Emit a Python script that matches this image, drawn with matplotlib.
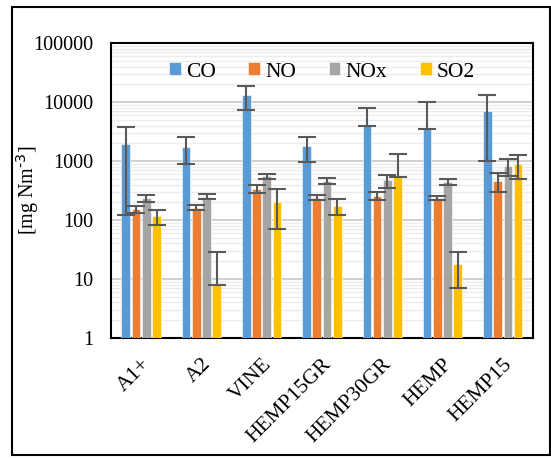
import numpy as np
import matplotlib

matplotlib.use("Agg")
import matplotlib.pyplot as plt
from matplotlib.patches import Rectangle
from matplotlib.ticker import FuncFormatter, LogLocator, NullFormatter

plt.rcParams["font.family"] = ["Liberation Serif", "DejaVu Serif"]

fuels = ["A1+", "A2", "VINE", "HEMP15GR", "HEMP30GR", "HEMP", "HEMP15"]
species = ["CO", "NO", "NOx", "SO2"]
colors = ["#5B9BD5", "#ED7D31", "#A5A5A5", "#FFC000"]

# mean emission and standard deviation, mg Nm-3
co = [1950, 1720, 13000, 1780, 3900, 3500, 7100]
co_err = [1830, 840, 5800, 800, 4150, 6700, 6100]
no = [152, 162, 340, 240, 260, 235, 465]
no_err = [18, 15, 50, 25, 40, 18, 165]
nox = [235, 250, 550, 460, 470, 440, 810]
nox_err = [35, 25, 60, 50, 120, 55, 255]
so2 = [115, 8, 205, 175, 540, 18, 880]
so2_err = [33, 21, 135, 53, 780, 11, 380]

values = [co, no, nox, so2]
errors = [co_err, no_err, nox_err, so2_err]

fig = plt.figure(figsize=(5.51, 4.58), dpi=100)
ax = fig.add_axes([0.2015, 0.262, 0.7655, 0.644])

x = np.arange(len(fuels))
width = 0.17
for i, (name, vals, errs, c) in enumerate(zip(species, values, errors, colors)):
    vals = np.array(vals, dtype=float)
    errs = np.array(errs, dtype=float)
    # on a log axis the lower whisker is dropped when it would reach zero
    lower = np.where(errs >= vals, 0, errs)
    pos = x + (i - 1.5) * width
    ax.bar(pos, vals, width * 0.84, color=c, edgecolor="white", linewidth=0.4,
           label=name, zorder=3)
    ax.errorbar(pos, vals, yerr=[lower, errs], fmt="none", ecolor="#595959",
                elinewidth=1.5, capsize=6.5, capthick=1.5, zorder=4)

ax.set_yscale("log")
ax.set_ylim(1, 100000)
ax.set_xlim(-0.5, len(fuels) - 0.5)
ax.yaxis.set_major_locator(LogLocator(base=10, numticks=10))
ax.yaxis.set_minor_locator(LogLocator(base=10, subs=np.arange(2, 10), numticks=20))
ax.yaxis.set_major_formatter(FuncFormatter(lambda v, _p: f"{v:.0f}"))
ax.yaxis.set_minor_formatter(NullFormatter())
ax.grid(axis="y", which="major", color="#D0D0D0", linewidth=1.4, zorder=0)
ax.grid(axis="y", which="minor", color="#ECECEC", linewidth=1.0, zorder=0)
ax.set_axisbelow(True)

ax.set_xticks(x)
ax.set_xticklabels(fuels, rotation=45, ha="right", rotation_mode="anchor", fontsize=15.5)
ax.tick_params(axis="y", which="both", length=0, pad=13, labelsize=14.5)
ax.tick_params(axis="x", length=0, pad=12)
for s in ax.spines.values():
    s.set_linewidth(1.5)
    s.set_color("black")

ax.set_ylabel(r"[mg Nm$^{\text{-3}}$]", fontsize=14.5)
ax.yaxis.set_label_coords(-0.165, 0.5)

ax.legend(loc="upper center", ncol=4, frameon=False, fontsize=15.5,
          handlelength=0.55, handleheight=0.55, handletextpad=0.25,
          columnspacing=1.5, bbox_to_anchor=(0.5, 1.0))

# border around the whole figure
fig.patches.append(Rectangle((12 / 551, 3 / 458), 538 / 551, 448 / 458,
                             transform=fig.transFigure, fill=False,
                             edgecolor="black", linewidth=1.5))

fig.savefig("out.png", dpi=100)
